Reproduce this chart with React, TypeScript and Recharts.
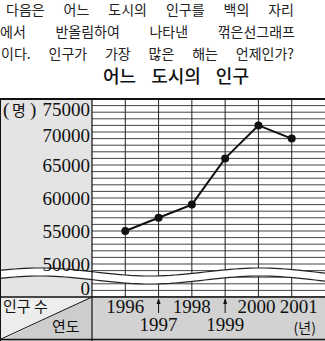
import { LineChart, Line, XAxis, YAxis, CartesianGrid } from 'recharts';

const years = [1996, 1997, 1998, 1999, 2000, 2001];
const population = [55000, 57000, 59000, 66000, 71000, 69000];
// years whose label sits on the second row, with an arrow up to the axis
const lowerYears = [1997, 1999];
// "0" is drawn under the axis break, at this fake value
const ZERO_AT = 46300;
const yTicks = [ZERO_AT, 50000, 55000, 60000, 65000, 70000, 75000];
const gridValues = Array.from({ length: 31 }, (_, i) => 45000 + i * 1000);

const data = years.map((year, i) => ({ year, population: population[i] }));

const W = 325;
const H = 341;
const TOP = 99;
const LEFT = 92;
const AXIS_H = 44;
const BOTTOM = H - AXIS_H;

const serif = '"Liberation Serif", "DejaVu Serif", serif';
const kr = '"Noto Sans CJK KR", sans-serif';

const wave = (x: number) => 272 + 4 * Math.cos((2 * Math.PI * (x - 150)) / 220);
const xs = Array.from({ length: 66 }, (_, i) => i * 5);
const topEdge = xs.map((x) => `${x},${wave(x).toFixed(1)}`);
const bottomEdge = xs.map((x) => `${x},${(wave(x) + 8).toFixed(1)}`);

function YTick({ x, y, payload }: any) {
  const v = payload.value;
  const dy = v === 75000 ? 10 : v === 70000 ? 3 : 0;
  return (
    <text x={x} y={y + dy} textAnchor="end" dominantBaseline="central" fontFamily={serif} fontSize={19} fill="#111">
      {v === ZERO_AT ? '0' : v}
    </text>
  );
}

function XTick({ x, payload }: any) {
  const v = payload.value;
  const lower = lowerYears.includes(v);
  const last = v === years[years.length - 1];
  const dx = last ? 7 : v === 2000 ? -2 : 0;
  return (
    <g>
      <text x={x + dx} y={lower ? BOTTOM + 34 : BOTTOM + 16} textAnchor="middle" fontFamily={serif} fontSize={19} fill="#111">
        {v}
      </text>
      {lower && (
        <g>
          <line x1={x} x2={x} y1={BOTTOM + 16} y2={BOTTOM + 2} stroke="#111" strokeWidth={1} />
          <path d={`M${x - 2},${BOTTOM + 7} L${x},${BOTTOM + 1} L${x + 2},${BOTTOM + 7} Z`} fill="#111" />
        </g>
      )}
      {last && (
        <text x={x + 13} y={BOTTOM + 36} textAnchor="middle" fontFamily={kr} fontSize={14} fill="#111">
          (년)
        </text>
      )}
    </g>
  );
}

const lineStyle = { fontFamily: kr, fontSize: 14, color: '#222', lineHeight: '20px', position: 'absolute' as const, textAlign: 'justify' as const, textAlignLast: 'justify' as const };

export default function App() {
  return (
    <div style={{ position: 'fixed', left: 0, top: 0, width: W, height: H, background: '#fff', overflow: 'hidden' }}>
      <div style={{ ...lineStyle, left: 6, top: -1, width: 288 }}>다음은 어느 도시의 인구를 백의 자리</div>
      <div style={{ ...lineStyle, left: 0, top: 21, width: 295 }}>에서 반올림하여 나타낸 꺾은선그래프</div>
      <div style={{ ...lineStyle, left: 1, top: 43, width: 293 }}>이다. 인구가 가장 많은 해는 언제인가?</div>
      <div style={{ ...lineStyle, left: 103, top: 63, width: 146, fontSize: 18, lineHeight: '24px', fontWeight: 500, color: '#111' }}>
        어느 도시의 인구
      </div>
      <div style={{ position: 'absolute', left: 0, top: 0 }}>
        <LineChart width={W} height={H} data={data} margin={{ top: TOP, right: 0, left: 0, bottom: 0 }}>
          <g>
            <rect x={0} y={TOP} width={LEFT} height={BOTTOM - TOP} fill="#e4e4e4" />
            <rect x={LEFT} y={BOTTOM} width={W - LEFT} height={AXIS_H} fill="#d2d2d2" />
            <polygon points={`0,${BOTTOM} ${LEFT},${BOTTOM} 0,${H}`} fill="#ededed" />
            <polygon points={`${LEFT},${BOTTOM} ${LEFT},${H} 0,${H}`} fill="#cdcdcd" />
          </g>
          <CartesianGrid horizontal vertical={false} horizontalValues={gridValues} stroke="#444" strokeWidth={1} />
          <g>
            <polygon points={[...topEdge, ...[...bottomEdge].reverse()].join(' ')} fill="#fff" />
            <polyline points={topEdge.join(' ')} fill="none" stroke="#222" strokeWidth={1.2} />
            <polyline points={bottomEdge.join(' ')} fill="none" stroke="#222" strokeWidth={1.2} />
          </g>
          <CartesianGrid horizontal={false} vertical verticalValues={years} stroke="#222" strokeWidth={1} />
          <XAxis
            dataKey="year"
            type="number"
            domain={[1995, 2002]}
            ticks={years}
            interval={0}
            height={AXIS_H}
            axisLine={false}
            tickLine={false}
            tick={<XTick />}
          />
          <YAxis
            type="number"
            domain={[45000, 75000]}
            ticks={yTicks}
            interval={0}
            width={LEFT}
            axisLine={false}
            tickLine={false}
            tickSize={0}
            tickMargin={2}
            tick={<YTick />}
          />
          <Line
            dataKey="population"
            stroke="#111"
            strokeWidth={2}
            dot={{ r: 3, fill: '#111', stroke: '#111' }}
            isAnimationActive={false}
          />
          <g>
            <line x1={0} x2={W} y1={TOP} y2={TOP} stroke="#111" strokeWidth={2} />
            <line x1={0} x2={W} y1={BOTTOM} y2={BOTTOM} stroke="#111" strokeWidth={1.5} />
            <line x1={LEFT} x2={LEFT} y1={TOP} y2={H} stroke="#111" strokeWidth={1.2} />
            <line x1={0.5} x2={0.5} y1={TOP} y2={H} stroke="#111" strokeWidth={1} />
            <line x1={0} x2={W} y1={H - 1.5} y2={H - 1.5} stroke="#111" strokeWidth={1.5} />
            <line x1={LEFT} y1={BOTTOM} x2={0} y2={H - 1.5} stroke="#111" strokeWidth={1} />
            <text x={3} y={109} dominantBaseline="central" fontFamily={serif} fontSize={19} fill="#111">(</text>
            <text x={12} y={109} dominantBaseline="central" fontFamily={kr} fontSize={15} fill="#111">명</text>
            <text x={30} y={109} dominantBaseline="central" fontFamily={serif} fontSize={19} fill="#111">)</text>
            <text x={3} y={BOTTOM + 15} fontFamily={kr} fontSize={15} fill="#111">인구 수</text>
            <text x={52} y={BOTTOM + 35} fontFamily={kr} fontSize={15} fill="#111">연도</text>
          </g>
        </LineChart>
      </div>
    </div>
  );
}
